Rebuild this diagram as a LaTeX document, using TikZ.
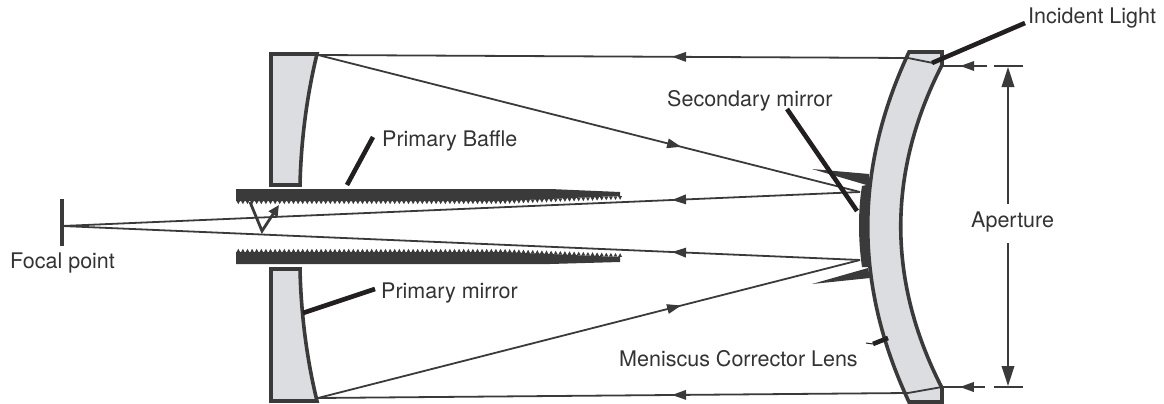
\documentclass[tikz,border=0pt]{standalone}
\usepackage{fontspec}
\setmainfont{TeX Gyre Heros}
\usetikzlibrary{arrows.meta,decorations.markings}
\definecolor{dk}{HTML}{3A3A3A}
\definecolor{glass}{HTML}{DCDDE0}
\definecolor{ink}{HTML}{231F20}
\definecolor{txt}{HTML}{333333}
\tikzset{
  optic/.style={draw=dk,line width=3.6pt,fill=glass,line join=miter},
  solid dark/.style={fill=dk,draw=none},
  ray/.style={draw=dk,line width=1.8pt},
  leader/.style={draw=ink,line width=4.6pt},
  dim/.style={draw=dk,line width=2pt},
  label/.style={anchor=base west,inner sep=0pt,text=txt,font=\fontsize{21.5}{25}\selectfont},
  flow/.style={decoration={markings,mark=at position #1 with {\arrow{Stealth[length=14pt,width=9.5pt,inset=0pt]}}},postaction={decorate}},
  bigtip/.style={-{Stealth[length=20pt,width=12.5pt,inset=0pt]}}
}
\begin{document}
\begin{tikzpicture}[x=1pt,y=-1pt]
\useasboundingbox (0,0) rectangle (1164,404);
% corrector lens
\path[optic] (909,52) -- (942,52) -- (942,65)
  .. controls (887,172) and (887,281) .. (942,388) -- (942,402) -- (909,402)
  .. controls (854,285) and (854,169) .. cycle;
% primary mirror
\path[optic] (271,54) -- (317,54) .. controls (307,95) and (301,140) .. (300,185) -- (271,185) -- cycle;
\path[optic] (271,269) -- (300,269) .. controls (301,315) and (307,360) .. (317,401) -- (271,401) -- cycle;
% baffle
\fill[solid dark] (236,189) -- (550,189) -- (620,192) -- (620,196) -- (500,201) -- (236,201) -- cycle;
\fill[solid dark] (236,252) -- (500,252) -- (620,257) -- (620,262) -- (550,264) -- (236,264) -- cycle;
\foreach \i in {0,...,83}{
  \pgfmathsetmacro{\xa}{236+4.6*\i}
  \pgfmathsetmacro{\dy}{max(0,\xa-500)/120*4.5}
  \fill[solid dark] (\xa+.3,201-\dy-.5) -- (\xa+4.3,201-\dy-.5) -- (\xa+2.3,204.2-\dy) -- cycle;
  \fill[solid dark] (\xa+.3,252+\dy+.5) -- (\xa+4.3,252+\dy+.5) -- (\xa+2.3,248.8+\dy) -- cycle;
}
% secondary mirror and its baffle
\fill[solid dark] (812,169) -- (869,174) -- (870,186) -- cycle;
\fill[solid dark] (812,284) -- (868,268) -- (870,278) -- cycle;
\fill[solid dark] (862,186) -- (871,184) .. controls (868,210) and (868,240) .. (871,267) -- (862,267)
  .. controls (858,240) and (858,210) .. cycle;
% focal plane
\coordinate (fp) at (62,226);
\coordinate (fpT) at (62,199);
\coordinate (fpB) at (62,246);
\draw[dk,line width=4pt] (fpT) -- (fpB);
% rays
\coordinate (lt) at (908,58);
\coordinate (ltr) at (933,63);
\coordinate (lb) at (908,393);
\coordinate (lbr) at (942,387);
\coordinate (mt) at (318,55);
\coordinate (mb) at (318,398);
\coordinate (st) at (860,192);
\coordinate (sb) at (860,260);
\draw[ray] (ltr) -- (lt);
\draw[ray] (lbr) -- (lb);
\draw[ray,flow=.4] (lt) -- (mt);
\draw[ray,flow=.4] (lb) -- (mb);
\draw[ray,flow=.67] (mt) -- (st);
\draw[ray,flow=.67] (mb) -- (sb);
\draw[ray,flow=.2356] (st) -- (fp);
\draw[ray,flow=.2356] (sb) -- (fp);
% scattered ray in baffle
\coordinate (va) at (250,202);
\coordinate (vb) at (262,231);
\coordinate (vc) at (279,205);
\draw[dk,line width=2.8pt,-{Stealth[length=11pt,width=10pt,inset=0pt]}] (va) -- (vb) -- (vc);
% aperture dimension
\coordinate (dt) at (1008,67);
\coordinate (db) at (1008,386);
\coordinate (dtm) at (1008,204);
\coordinate (dbm) at (1008,243);
\draw[dim,bigtip] (dtm) -- (dt);
\draw[dim,bigtip] (dbm) -- (db);
\coordinate (ra) at (943,66);
\coordinate (rb) at (987,66);
\coordinate (rc) at (994,66);
\coordinate (rd) at (1023,66);
\coordinate (sa) at (943,387);
\coordinate (sb2) at (985,387);
\coordinate (sc) at (994,387);
\coordinate (sd) at (1023,387);
\draw[dim,flow=.61] (rb) -- (ra);
\draw[dim] (rc) -- (rd);
\draw[dim,flow=.6] (sb2) -- (sa);
\draw[dim] (sc) -- (sd);
% labels
\node[label] (incident) at (1028,24) {Incident Light};
\node[label] (secondary) at (667,106) {Secondary mirror};
\node[label] (baffle) at (382,146) {Primary Baffle};
\node[label] (aperture) at (971,227) {Aperture};
\node[label] (focal) at (10,268) {Focal point};
\node[label] (primary) at (381,298) {Primary mirror};
\node[label] (meniscus) at (619,366) {Meniscus Corrector Lens};
% leaders
\coordinate (l1) at (932,63);
\coordinate (l1a) at (1025,23);
\coordinate (l2) at (857,211);
\coordinate (l2a) at (787,109);
\coordinate (l3) at (347,185);
\coordinate (l3a) at (373,137);
\coordinate (l4) at (303,313);
\coordinate (l4a) at (375,289);
\coordinate (l5) at (888,338);
\coordinate (l5a) at (873,344);
\coordinate (l5b) at (866,343);
\draw[leader] (l1) -- (l1a);
\draw[leader] (l2) -- (l2a);
\draw[leader] (l3) -- (l3a);
\draw[leader] (l4) -- (l4a);
\draw[leader] (l5) -- (l5a);
\draw[ink,line width=1pt] (l5a) -- (l5b);
\end{tikzpicture}
\end{document}
